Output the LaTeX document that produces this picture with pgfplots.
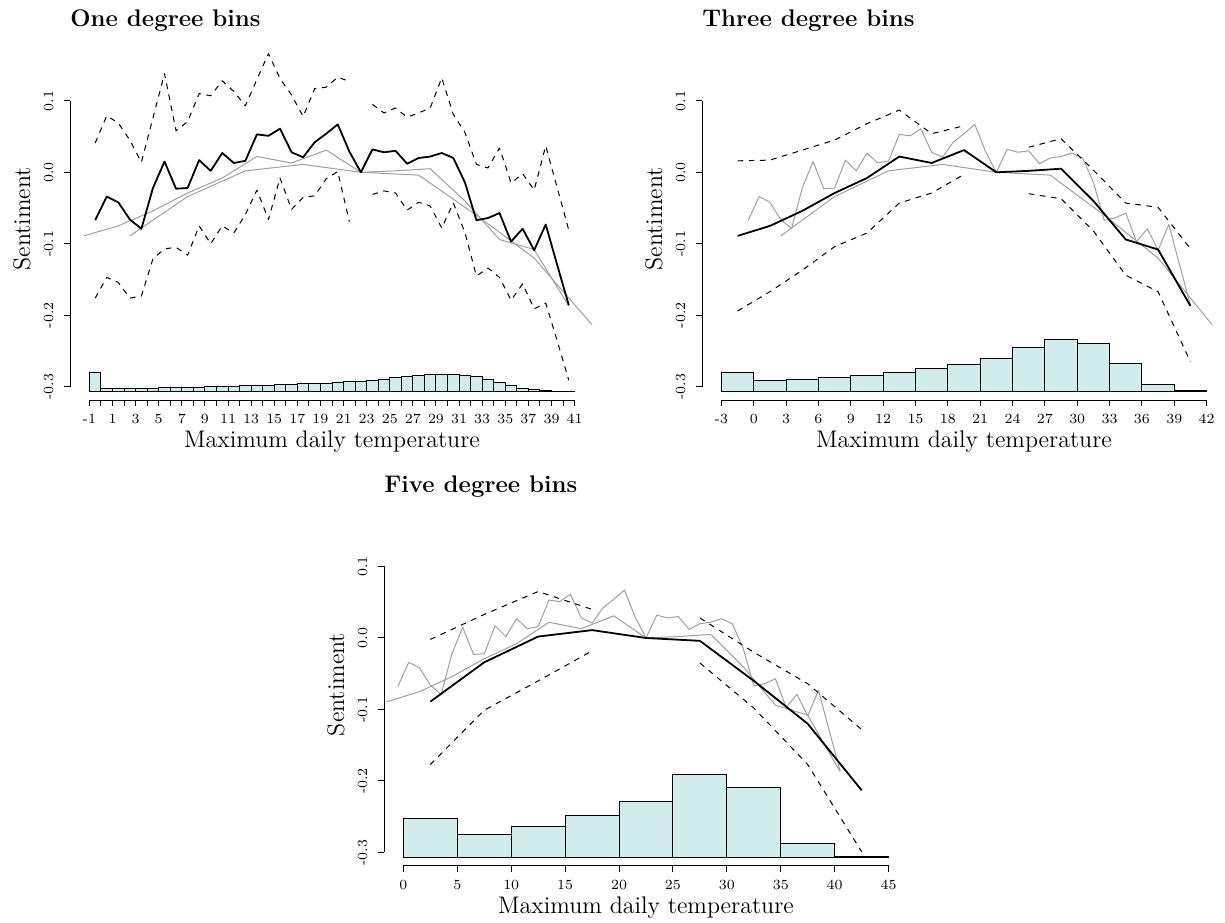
\documentclass[border=0pt]{standalone}
\usepackage{pgfplots}
\usepackage{pgfplotstable}
\pgfplotsset{compat=1.18}

\definecolor{histfill}{RGB}{209,236,236}
\definecolor{refgray}{RGB}{160,160,160}

\newcommand\tickfont{\fontsize{7}{8}\selectfont}
\newcommand\labfont{\fontsize{12}{14}\selectfont}
\newcommand\titfont{\bfseries\fontsize{12}{14}\selectfont}

% estimates by bin midpoint, with upper and lower bounds (reference bin has none)
\pgfplotstableread{
x     est     up      lo
-0.5  -0.067  0.041  -0.176
0.5   -0.034  0.079  -0.147
1.5   -0.042  0.069  -0.154
2.5   -0.066  0.045  -0.176
3.5   -0.079  0.014  -0.173
4.5   -0.022  0.076  -0.121
5.5    0.015  0.138  -0.107
6.5   -0.023  0.058  -0.105
7.5   -0.022  0.071  -0.116
8.5    0.017  0.110  -0.075
9.5    0.002  0.107  -0.100
10.5   0.027  0.128  -0.075
11.5   0.013  0.113  -0.085
12.5   0.016  0.093  -0.059
13.5   0.053  0.130  -0.025
14.5   0.051  0.166  -0.066
15.5   0.061  0.131  -0.008
16.5   0.028  0.108  -0.052
17.5   0.021  0.078  -0.035
18.5   0.042  0.117  -0.033
19.5   0.054  0.119  -0.009
20.5   0.067  0.133   0.001
21.5   0.029  0.127  -0.069
22.5   0.000  nan     nan
23.5   0.032  0.095  -0.031
24.5   0.028  0.083  -0.026
25.5   0.030  0.090  -0.029
26.5   0.012  0.077  -0.053
27.5   0.020  0.083  -0.042
28.5   0.022  0.090  -0.047
29.5   0.027  0.132  -0.078
30.5   0.020  0.081  -0.043
31.5  -0.014  0.056  -0.084
32.5  -0.067  0.011  -0.145
33.5  -0.064  0.006  -0.134
34.5  -0.057  0.034  -0.147
35.5  -0.097 -0.015  -0.179
36.5  -0.079 -0.002  -0.156
37.5  -0.109 -0.025  -0.191
38.5  -0.073  0.037  -0.183
39.5  -0.130 -0.022  -0.236
40.5  -0.186 -0.081  -0.291
}\onedeg

\pgfplotstableread{
x     est     up      lo
-1.5  -0.089  0.016  -0.194
1.5   -0.075  0.017  -0.167
4.5   -0.054  0.031  -0.137
7.5   -0.029  0.045  -0.104
10.5  -0.008  0.068  -0.085
13.5   0.022  0.087  -0.043
16.5   0.013  0.054  -0.029
19.5   0.031  0.065  -0.003
22.5   0.000  nan     nan
25.5   0.002  0.035  -0.030
28.5   0.005  0.047  -0.037
31.5  -0.040  0.003  -0.082
34.5  -0.094 -0.043  -0.144
37.5  -0.108 -0.049  -0.167
40.5  -0.187 -0.107  -0.265
}\threedeg

\pgfplotstableread{
x     est     up      lo
2.5   -0.089 -0.002  -0.177
7.5   -0.034  0.033  -0.101
12.5   0.002  0.065  -0.060
17.5   0.011  0.040  -0.018
22.5   0.000  nan     nan
27.5  -0.004  0.028  -0.035
32.5  -0.060 -0.020  -0.098
37.5  -0.120 -0.064  -0.177
42.5  -0.213 -0.128  -0.299
}\fivedeg

% histogram bar heights (left bin edge, height)
\pgfplotstableread{
x  h
-1 19.4
0  3.3
1  3.3
2  3.7
3  3.7
4  3.7
5  4.0
6  4.0
7  4.3
8  4.7
9  5.0
10 5.0
11 5.7
12 6.0
13 6.3
14 6.3
15 7.0
16 7.7
17 8.0
18 8.3
19 8.7
20 9.0
21 10.0
22 10.7
23 11.7
24 12.7
25 14.0
26 15.7
27 16.7
28 17.7
29 17.3
30 17.0
31 16.2
32 15.2
33 12.1
34 9.0
35 5.9
36 3.1
37 2.1
38 1.0
39 0.4
40 0.4
41 0
}\histone

\pgfplotstableread{
x  h
-3 19.3
0  11.7
3  12.3
6  14.3
9  16.3
12 19.7
15 23.7
18 27.7
21 33.3
24 44.0
27 52.3
30 48.3
33 28.3
36 7.3
39 1.3
42 0
}\histthree

\pgfplotstableread{
x  h
0  39.3
5  23.3
10 31.0
15 41.7
20 56.3
25 83.0
30 70.3
35 14.0
40 1.0
45 0
}\histfive

\pgfplotsset{
  box/.style={scale only axis, width=262pt, height=181.25pt, anchor=south west},
  hist panel/.style={box, hide axis, ymin=-8.2, ymax=354.3},
  r panel/.style={box,
    ymin=-0.3185, ymax=0.1885, clip=false,
    axis x line*=bottom, axis y line*=left,
    axis line style={draw=none},
    tick align=outside, major tick length=3pt,
    tick style={black, line width=0.5pt},
    ytick={-0.3,-0.2,-0.1,0,0.1},
    yticklabels={-0.3,-0.2,-0.1,0.0,0.1},
    yticklabel style={rotate=90, anchor=south, font=\tickfont},
    yticklabel shift=1.8pt,
    xticklabel style={anchor=north, font=\tickfont, inner sep=1pt},
    xticklabel shift=3pt,
    no markers, unbounded coords=jump,
    every axis plot/.append style={line join=round},
  },
  est/.style={black, line width=0.9pt},
  other/.style={refgray, line width=0.5pt},
  bound/.style={black, line width=0.5pt, dash pattern=on 2.8pt off 2.8pt},
  bars/.style={ybar interval, fill=histfill, draw=black, line width=0.5pt},
}
\tikzset{
  xlab/.style={font=\labfont, inner sep=0pt, anchor=base},
  ylab/.style={font=\labfont, rotate=90},
  ttl/.style={font=\titfont, inner sep=0pt, anchor=base west, yshift=5.4pt},
}

\begin{document}
\begin{tikzpicture}

% One degree bins
\begin{axis}[hist panel, at={(35pt,-200pt)}, xmin=-2.68, xmax=42.68]
\addplot[bars] table[x=x, y=h] {\histone};
\end{axis}
\begin{axis}[r panel, at={(35pt,-200pt)}, xmin=-2.68, xmax=42.68,
  xtick={-1,0,...,41},
  xticklabels={-1,{},1,{},3,{},5,{},7,{},9,{},11,{},13,{},15,{},17,{},19,{},21,{},23,{},25,{},27,{},29,{},31,{},33,{},35,{},37,{},39,{},41}]
\addplot[other] table[x=x, y=est] {\threedeg};
\addplot[other] table[x=x, y=est] {\fivedeg};
\addplot[bound] table[x=x, y=up] {\onedeg};
\addplot[bound] table[x=x, y=lo] {\onedeg};
\addplot[est] table[x=x, y=est] {\onedeg};
\draw[line width=0.5pt] (axis cs:-1,-0.3185) -- (axis cs:41,-0.3185);
\draw[line width=0.5pt] (axis cs:-2.68,-0.3) -- (axis cs:-2.68,0.1);
\node[ttl] at (axis description cs:0,1) {One degree bins};
\node[xlab] at (axis description cs:0.5,-0.132) {Maximum daily temperature};
\node[ylab] at (axis description cs:-0.0916,0.5) {Sentiment};
\end{axis}

% Three degree bins
\begin{axis}[hist panel, at={(351pt,-200pt)}, xmin=-4.8, xmax=43.8]
\addplot[bars] table[x=x, y=h] {\histthree};
\end{axis}
\begin{axis}[r panel, at={(351pt,-200pt)}, xmin=-4.8, xmax=43.8,
  xtick={-3,0,...,42},
  xticklabels={-3,0,3,6,9,12,15,18,21,24,27,30,33,36,39,42}]
\addplot[other] table[x=x, y=est] {\onedeg};
\addplot[other] table[x=x, y=est] {\fivedeg};
\addplot[bound] table[x=x, y=up] {\threedeg};
\addplot[bound] table[x=x, y=lo] {\threedeg};
\addplot[est] table[x=x, y=est] {\threedeg};
\draw[line width=0.5pt] (axis cs:-3,-0.3185) -- (axis cs:42,-0.3185);
\draw[line width=0.5pt] (axis cs:-4.8,-0.3) -- (axis cs:-4.8,0.1);
\node[ttl] at (axis description cs:0,1) {Three degree bins};
\node[xlab] at (axis description cs:0.5,-0.132) {Maximum daily temperature};
\node[ylab] at (axis description cs:-0.0916,0.5) {Sentiment};
\end{axis}

% Five degree bins
\begin{axis}[hist panel, at={(192pt,-432.85pt)}, xmin=-1.8, xmax=46.8]
\addplot[bars] table[x=x, y=h] {\histfive};
\end{axis}
\begin{axis}[r panel, at={(192pt,-432.85pt)}, xmin=-1.8, xmax=46.8,
  xtick={0,5,...,45},
  xticklabels={0,5,10,15,20,25,30,35,40,45}]
\addplot[other] table[x=x, y=est] {\onedeg};
\addplot[other] table[x=x, y=est] {\threedeg};
\addplot[bound] table[x=x, y=up] {\fivedeg};
\addplot[bound] table[x=x, y=lo] {\fivedeg};
\addplot[est] table[x=x, y=est] {\fivedeg};
\draw[line width=0.5pt] (axis cs:0,-0.3185) -- (axis cs:45,-0.3185);
\draw[line width=0.5pt] (axis cs:-1.8,-0.3) -- (axis cs:-1.8,0.1);
\node[ttl] at (axis description cs:0,1) {Five degree bins};
\node[xlab] at (axis description cs:0.5,-0.132) {Maximum daily temperature};
\node[ylab] at (axis description cs:-0.0916,0.5) {Sentiment};
\end{axis}

\pgfresetboundingbox
\useasboundingbox (0,0) rectangle (612.5pt,-461pt);
\end{tikzpicture}
\end{document}
